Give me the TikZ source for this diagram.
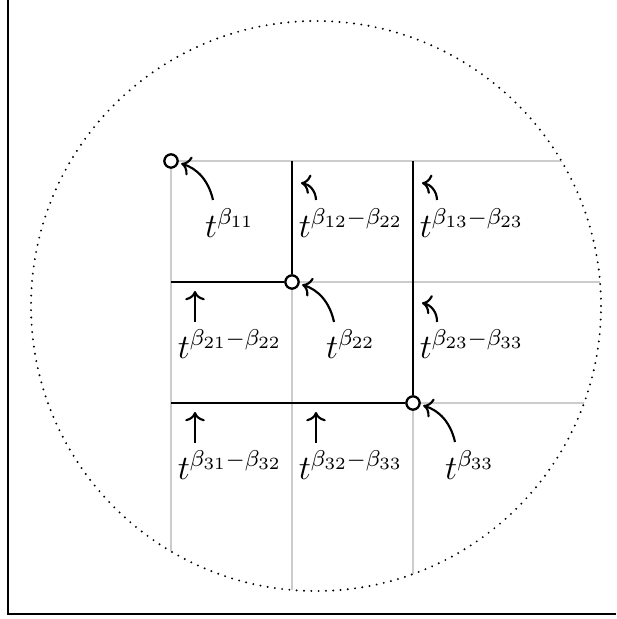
\documentclass[tikz,border=0pt]{standalone}
\usetikzlibrary{arrows.meta}
\begin{document}
\begin{tikzpicture}[x=0.35pt,y=0.35pt,
  gridline/.style={draw=black!20,line width=0.8pt},
  blackline/.style={draw=black,line width=0.8pt},
  dot/.style={circle,draw=black,fill=white,line width=0.75pt,inner sep=0pt,minimum size=4.6pt},
  lbl/.style={inner sep=1pt,font=\large},
  arr/.style={->,line width=0.75pt},
  frameline/.style={line width=0.6pt}]
\useasboundingbox (0,0) rectangle (616,619);
% frame
\coordinate (f1) at (8,619);
\coordinate (f2) at (8,5);
\coordinate (f3) at (616,5);
\draw[frameline] (f1) -- (f2) -- (f3);
% grid clipped to circle
\coordinate (C) at (316,313);
\begin{scope}
\clip (C) circle (285);
\foreach \x in {171,292,413} {\draw[gridline] (\x,458) -- (\x,0);}
\foreach \y in {458,337,216} {\draw[gridline] (171,\y) -- (616,\y);}
\end{scope}
\draw[line width=0.75pt,line cap=round,dash pattern=on 0pt off 2.56pt] (C) circle (285);
% points
\node[dot] (P11) at (171,458) {};
\node[dot] (P22) at (292,337) {};
\node[dot] (P33) at (413,216) {};
\coordinate (T12) at (292,458);
\coordinate (T13) at (413,458);
\coordinate (L21) at (171,337);
\coordinate (L31) at (171,216);
\draw[blackline] (T12) -- (P22);
\draw[blackline] (L21) -- (P22);
\draw[blackline] (T13) -- (P33);
\draw[blackline] (L31) -- (P33);
\node[dot] at (P11) {};
\node[dot] at (P22) {};
\node[dot] at (P33) {};
% labels
\node[lbl] (l11) at (230,396) {$t^{\beta_{11}}$};
\node[lbl] (l12) at (351,396) {$t^{\beta_{12}-\beta_{22}}$};
\node[lbl] (l13) at (472,396) {$t^{\beta_{13}-\beta_{23}}$};
\node[lbl] (l21) at (230,275) {$t^{\beta_{21}-\beta_{22}}$};
\node[lbl] (l22) at (351,275) {$t^{\beta_{22}}$};
\node[lbl] (l23) at (472,275) {$t^{\beta_{23}-\beta_{33}}$};
\node[lbl] (l31) at (230,154) {$t^{\beta_{31}-\beta_{32}}$};
\node[lbl] (l32) at (351,154) {$t^{\beta_{32}-\beta_{33}}$};
\node[lbl] (l33) at (470,154) {$t^{\beta_{33}}$};
% big arrows
\coordinate (a11) at (213,419);
\coordinate (a22) at (334,297);
\coordinate (a33) at (455,177);
\draw[arr,shorten >=1pt] (a11) to[bend right=30] (P11);
\draw[arr,shorten >=1pt] (a22) to[bend right=30] (P22);
\draw[arr,shorten >=1pt] (a33) to[bend right=30] (P33);
% small curved arrows
\coordinate (s12a) at (316,419); \coordinate (s12b) at (301,436);
\coordinate (s13a) at (437,419); \coordinate (s13b) at (422,436);
\coordinate (s23a) at (437,297); \coordinate (s23b) at (422,316);
\draw[arr] (s12a) to[bend right=40] (s12b);
\draw[arr] (s13a) to[bend right=40] (s13b);
\draw[arr] (s23a) to[bend right=40] (s23b);
% vertical arrows
\coordinate (v21a) at (195,297); \coordinate (v21b) at (195,328);
\coordinate (v31a) at (195,176); \coordinate (v31b) at (195,207);
\coordinate (v32a) at (316,176); \coordinate (v32b) at (316,207);
\draw[arr] (v21a) -- (v21b);
\draw[arr] (v31a) -- (v31b);
\draw[arr] (v32a) -- (v32b);
\end{tikzpicture}
\end{document}
